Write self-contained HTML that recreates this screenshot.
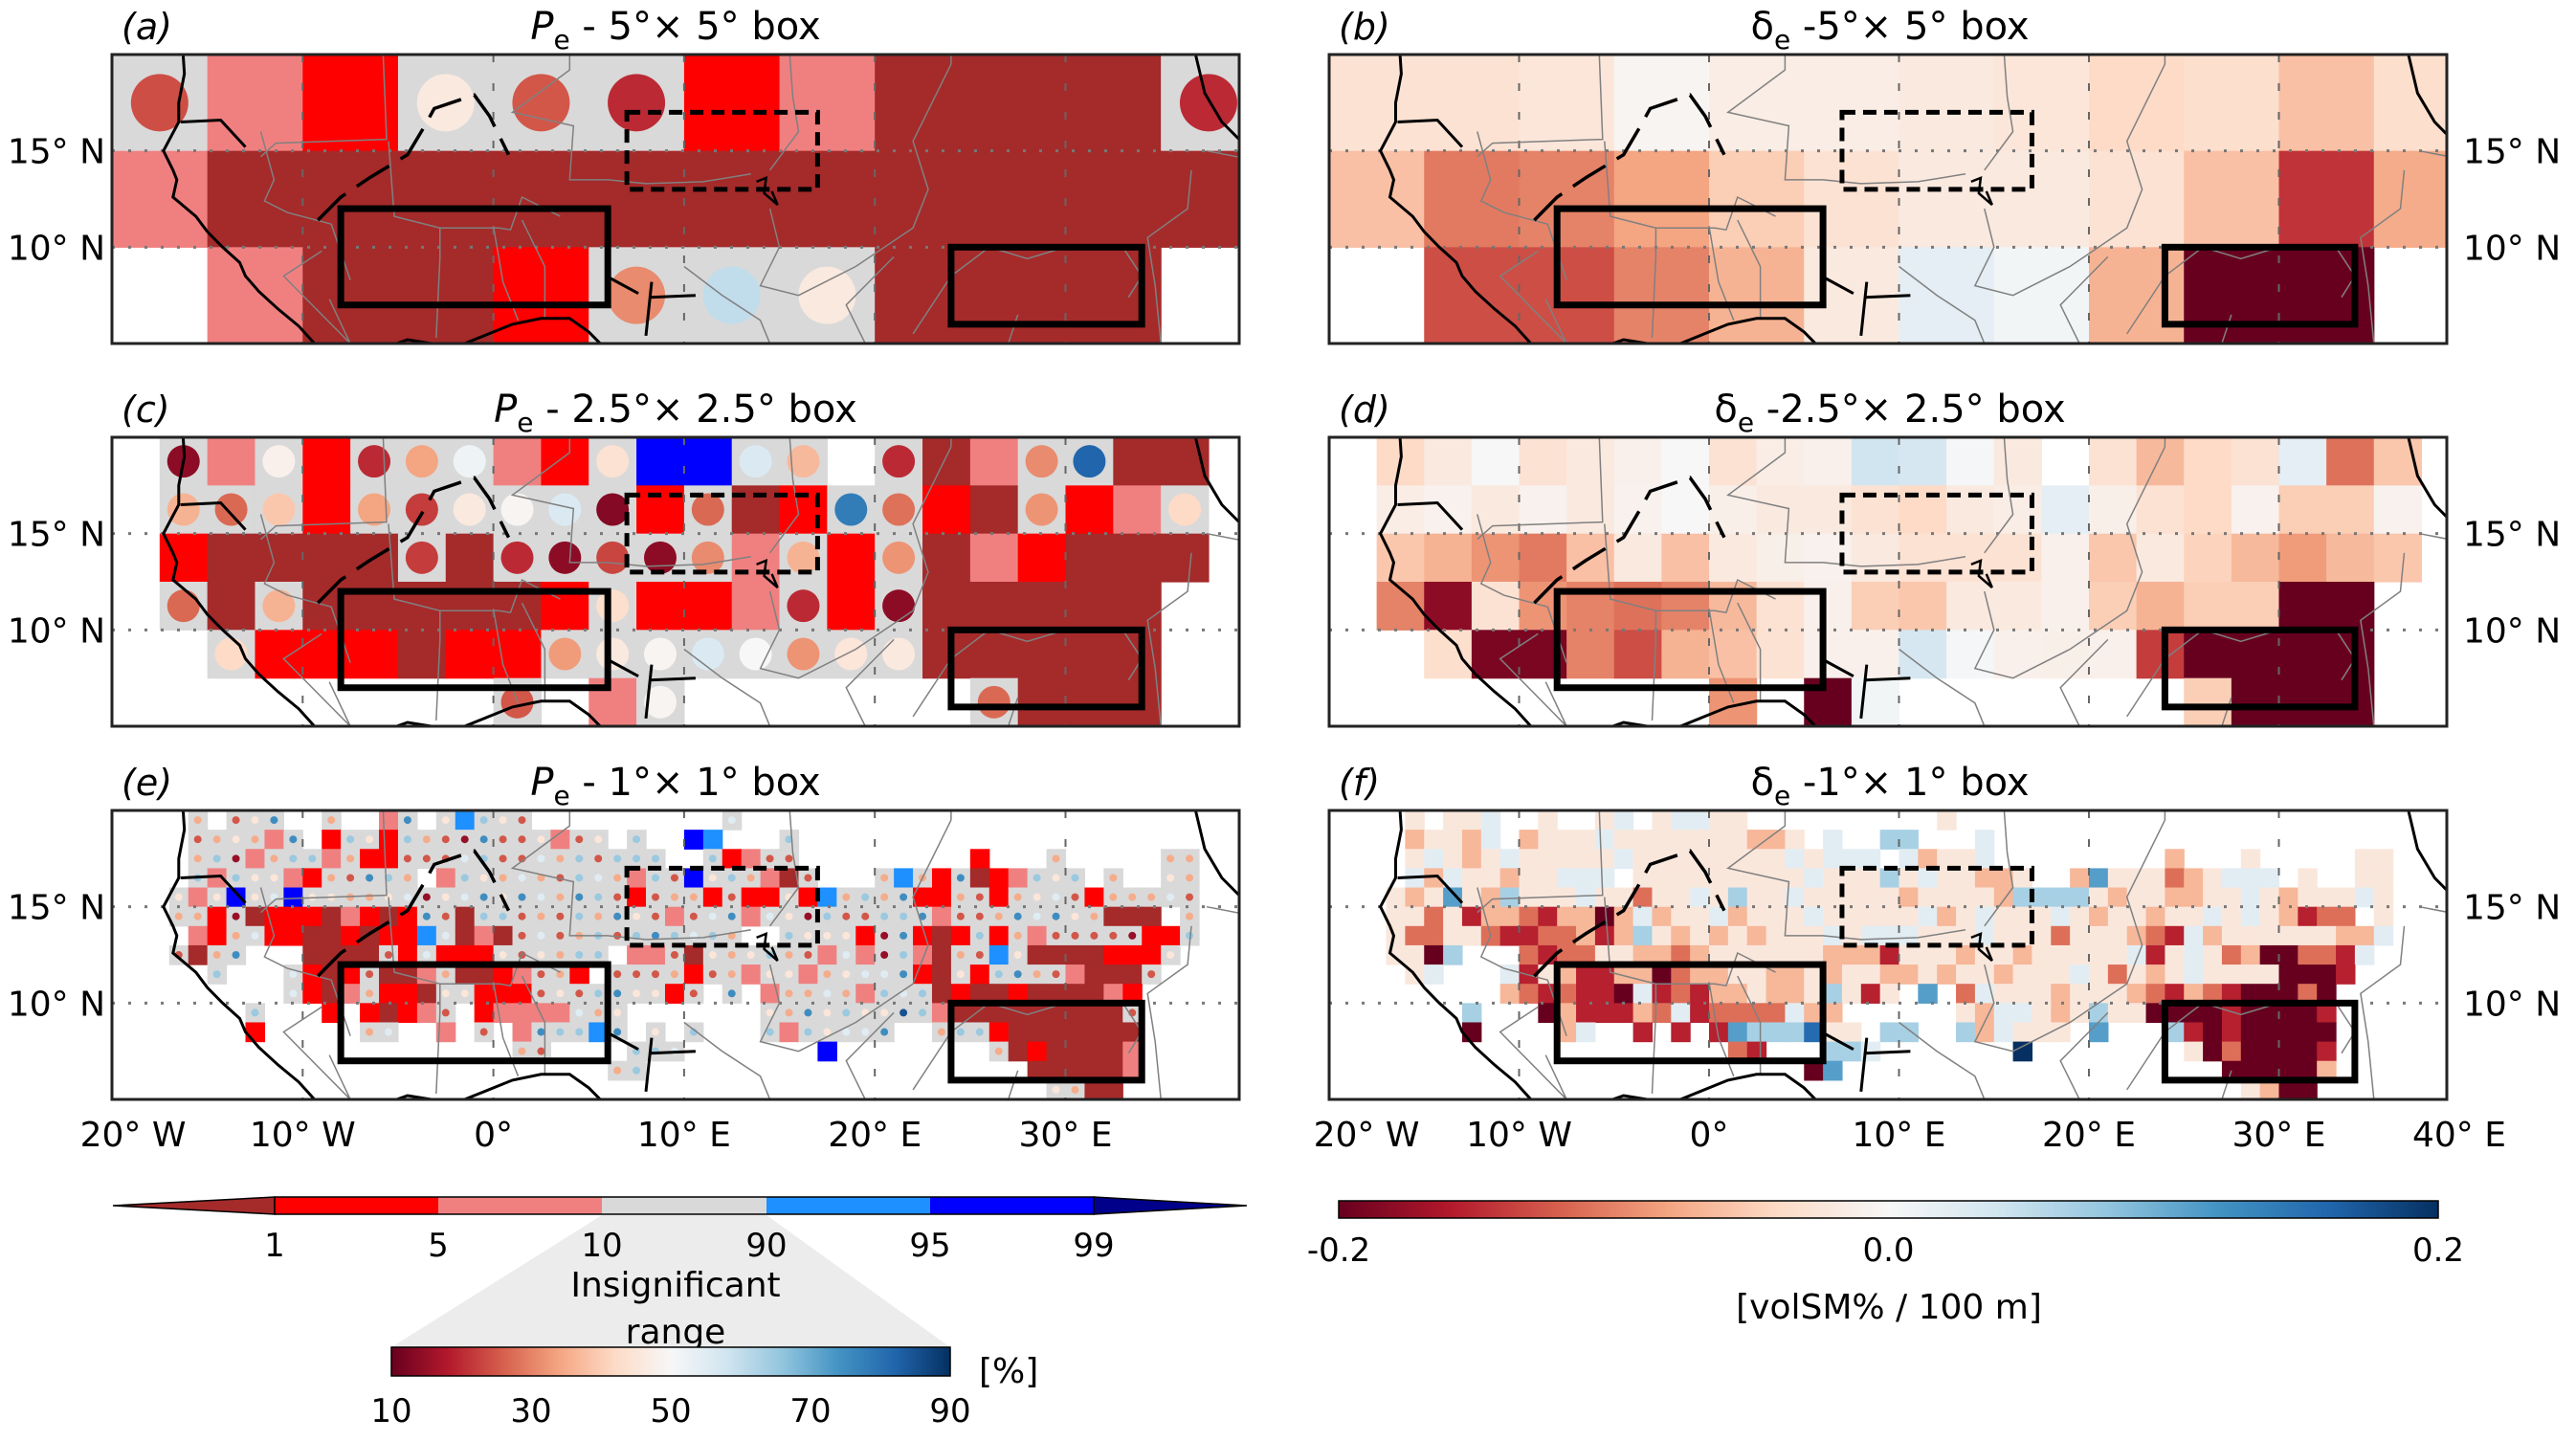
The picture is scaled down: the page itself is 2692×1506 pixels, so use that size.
<!DOCTYPE html>
<html><head><meta charset="utf-8">
<style>
html,body{margin:0;padding:0;background:#fff;}
svg{display:block;font-family:"DejaVu Sans","Liberation Sans",sans-serif;}
</style></head>
<body>
<svg id="fig" xmlns="http://www.w3.org/2000/svg" width="2692" height="1506" viewBox="0 0 2692 1506">
<defs>
<linearGradient id="rdbu" x1="0" x2="1" y1="0" y2="0">
<stop offset="0" stop-color="#67001f"/><stop offset="0.1" stop-color="#b2182b"/><stop offset="0.2" stop-color="#d6604d"/><stop offset="0.3" stop-color="#f4a582"/><stop offset="0.4" stop-color="#fddbc7"/><stop offset="0.5" stop-color="#f7f7f7"/><stop offset="0.6" stop-color="#d1e5f0"/><stop offset="0.7" stop-color="#92c5de"/><stop offset="0.8" stop-color="#4393c3"/><stop offset="0.9" stop-color="#2166ac"/><stop offset="1" stop-color="#053061"/>
</linearGradient>
</defs>
<g id="panels"></g>
<g id="cbars"></g>
</svg>
<script>
// ---------- data ----------
const aP = [
 [24,7,3,46,25,20,3,7,0.5,0.5,0.5,20],
 [7,0.5,0.5,0.5,0.5,0.5,0.5,0.5,0.5,0.5,0.5,0.5],
 [null,7,0.5,0.5,3,31,60,46,0.5,0.5,0.5,null]
];
const cP = [
 [null,14,7,48,3,20,34,52,7,3,44,97,97,56,37,null,20,0.5,7,31,82,0.5,0.5,null],
 [null,36,27,39,3,34,22,46,49,56,13,3,27,0.5,3,78,28,3,0.5,32,3,7,42,null],
 [null,3,0.5,0.5,0.5,0.5,22,0.5,20,14,23,14,31,7,36,3,32,0.5,7,3,0.5,0.5,0.5,null],
 [null,27,0.5,36,0.5,0.5,0.5,0.5,0.5,3,43,3,3,7,20,3,14,0.5,0.5,0.5,0.5,0.5,null,null],
 [null,null,42,3,3,3,0.5,3,3,33,46,49,56,50,32,45,46,0.5,0.5,0.5,0.5,0.5,null,null],
 [null,null,null,null,null,null,null,null,25,null,7,49,null,null,null,null,null,null,27,0.5,0.5,0.5,null,null]
];
const eStart = [4,4,4,4,3,3,4,3,5,9,7,7,21,26,49];
const eRows = [
 "3.247..3..P7.4L642..........5",
 "2343P7.R64R63217224P24.6..BL...6",
 "361P366P3RR22256225362666..6RP22.........R...3.....33",
 "6P644PR32763.P643532653P62B463PD2...3L3R7DRP646.3..43",
 "4P4B45B44334514574753762R233R2RR4RL3637RR32R3452R33352",
 "33R1DRRRDPRDR72D6623263742P257P541622667P22375743DDD.3",
 "PR35RRDDRDRRL5DPD252362676563..6444R17RDR6R3P22221RR6",
 "2D37...DDDD2R5RRR424366.PP2D434632P5P16PD32L4DDDDRRR4",
 "6...5RDR2DDP3DDRP23R.2223R23P44P34557RD4R6732PDDD2",
 "5RDP3RRD44RRR2426744R2.7.P3353P656DRDDRDDDDPR",
 "6...R.RDRP2.RPPPP534.......437464486PDDDDDDDDD2",
 "R.....35..P.2.P766L7.4.6...6P64557..366RDDDDDDD",
 "32....665.......B........3DRDDDDP",
 "36....................DDDDDP",
 "43DD"
];
const bV = [
 [-0.03,-0.03,-0.025,-0.005,-0.015,-0.015,-0.02,-0.025,-0.04,-0.035,-0.06,-0.035],
 [-0.06,-0.105,-0.1,-0.08,-0.05,-0.03,-0.02,-0.02,-0.03,-0.06,-0.145,-0.075],
 [null,-0.13,-0.13,-0.1,-0.07,-0.02,0.02,0.005,-0.07,-0.2,-0.2,null]
];
const dV = [
 [null,-0.04,-0.02,0.0,-0.03,-0.02,-0.01,0.0,-0.03,-0.015,-0.01,0.04,0.035,0.002,-0.02,null,-0.03,-0.065,-0.04,-0.03,0.02,-0.11,-0.055,null],
 [null,-0.015,-0.008,-0.02,-0.008,-0.02,-0.008,0.0,-0.012,-0.02,-0.02,-0.03,-0.04,-0.02,-0.015,0.02,-0.012,-0.03,-0.04,-0.008,-0.05,-0.05,-0.008,null],
 [null,-0.055,-0.07,-0.09,-0.105,-0.06,-0.02,-0.06,-0.02,-0.012,-0.008,-0.02,-0.03,-0.03,-0.03,-0.01,-0.055,-0.02,-0.045,-0.065,-0.085,-0.065,-0.055,null],
 [null,-0.1,-0.18,-0.03,-0.09,-0.1,-0.11,-0.1,-0.065,-0.03,-0.01,-0.05,-0.055,-0.02,-0.02,-0.01,-0.05,-0.07,-0.05,-0.05,-0.2,-0.2,null,null],
 [null,null,-0.035,-0.19,-0.19,-0.1,-0.13,-0.07,-0.06,-0.03,-0.01,-0.01,0.035,0.002,-0.01,-0.012,-0.01,-0.14,-0.2,-0.2,-0.2,-0.2,null,null],
 [null,null,null,null,null,null,null,null,-0.09,null,-0.2,0.005,null,null,null,null,null,null,-0.05,-0.2,-0.2,-0.2,null,null]
];
const fStart = [4,4,4,4,3,3,3,3,4,9,7,7,21,25,48];
const fRows = [
 "4.445..4..45.45544..........4",
 "34435.344454444444334.5..66...5",
 "4543454444454444444454555.53445.........3...4.....44",
 "53544344555.444444444544464544334..37444234555.4..44",
 "4347436444"+"5442445464"+"4544444344"+"4436666434"+"4334454344"+"454",
 "4424133213"+"3035344534"+"4454444453"+"4544454344"+"3445454312"+"2.4",
 "4224421122"+"3136434343"+"4445455544"+"4544424443"+"2153444444"+"335",
 "4406...212"+"2443323444"+"4443331444"+"3443444445"+"1454230022"+"15",
 "45...51431"+"1330233443"+"3434433434"+"4344454243"+"4544440001",
 "3212110512"+"1334334641"+"4.7.254443"+"4443213210"+"0020",
 "6...031113"+"2512222533"+"......"+"4355434644"+"0000100001",
 "0....35..1"+".1.1766684"+"4.66..6354"+"44.7...610"+"100000",
 "21...665.......9........40200001",
 "07....................000003",
 "4300"
];
const latTicks = [15,10];
const lonTicksL = [-20,-10,0,10,20,30];
const lonTicksR = [-20,-10,0,10,20,30,40];
const catTicks = ["1","5","10","90","95","99"];
const pctTicks = ["10","30","50","70","90"];
const deltaTicks = ["-0.2","0.0","0.2"];
const boxes = [[-8,6,7,12,'solid'],[24,34,6,10,'solid'],[7,17,13,17,'dash']];

// ---------- helpers ----------
const NS="http://www.w3.org/2000/svg";
const svg=document.getElementById('fig');
function mk(tag,attrs,parent){const e=document.createElementNS(NS,tag);for(const k in attrs)e.setAttribute(k,attrs[k]);(parent||svg).appendChild(e);return e;}
const stops=["#67001f","#b2182b","#d6604d","#f4a582","#fddbc7","#f7f7f7","#d1e5f0","#92c5de","#4393c3","#2166ac","#053061"];
function hex(c){return [parseInt(c.substr(1,2),16),parseInt(c.substr(3,2),16),parseInt(c.substr(5,2),16)];}
function rdbu(t){t=Math.max(0,Math.min(1,t));const s=t*10;const i=Math.min(9,Math.floor(s));const f=s-i;const a=hex(stops[i]),b=hex(stops[i+1]);return 'rgb('+a.map((v,k)=>Math.round(v+(b[k]-v)*f)).join(',')+')';}
function catColor(p){if(p<1)return '#a52a2a';if(p<5)return '#ff0000';if(p<10)return '#f08080';if(p<90)return '#d9d9d9';if(p<95)return '#1e90ff';if(p<99)return '#0000ff';return '#00008b';}
function codeToP(ch){if(ch==='D')return 0.5;if(ch==='R')return 3;if(ch==='P')return 7;if(ch==='L')return 92;if(ch==='B')return 97;if(ch==='N')return 99.5;return 10+(parseInt(ch)-0.5)*10;}
function codeToV(ch){return -0.2+parseInt(ch)*0.4/9;}

const LAT0=5,LAT1=20;
function makePanel(id,x0,x1,y0,y1,pxPerDeg){
  return {id,x0,x1,y0,y1,X:lon=>x0+(lon+20)*pxPerDeg,Y:lat=>y0+(LAT1-lat)*(y1-y0)/(LAT1-LAT0),k:pxPerDeg};
}
const P = {
 a:makePanel('a',117,1295,57,359,19.93), b:makePanel('b',1389,2557,57,359,19.85),
 c:makePanel('c',117,1295,457,759,19.93), d:makePanel('d',1389,2557,457,759,19.85),
 e:makePanel('e',117,1295,847,1149,19.93), f:makePanel('f',1389,2557,847,1149,19.85)
};
const gp=document.getElementById('panels');

function panelGroup(p){
  const cp=mk('clipPath',{id:'clip-'+p.id},svg.querySelector('defs'));
  mk('rect',{x:p.x0,y:p.y0,width:p.x1-p.x0,height:p.y1-p.y0},cp);
  const g=mk('g',{'clip-path':'url(#clip-'+p.id+')'},gp);
  
  
  return g;
}
function cellP(g,p,lon,lat,deg,pv,rad){
  const x=p.X(lon),y=p.Y(lat+deg),w=deg*p.k,h=p.Y(lat)-p.Y(lat+deg);
  const r=mk('rect',{x:x,y:y,width:w+0.6,height:h+0.6,fill:catColor(pv)},g);
  
  
  if(pv>=10&&pv<90){
    const c=mk('circle',{cx:x+w/2,cy:y+h/2,r:rad,fill:rdbu((pv-10)/80)},g);
    
    
  }
}
function cellV(g,p,lon,lat,deg,v){
  const x=p.X(lon),y=p.Y(lat+deg),w=deg*p.k,h=p.Y(lat)-p.Y(lat+deg);
  const r=mk('rect',{x:x,y:y,width:w+0.6,height:h+0.6,fill:rdbu((v+0.2)/0.4)},g);
  
  
}
function drawGrid(g,p,vals,deg,kind,rad){
  vals.forEach((row,i)=>row.forEach((v,j)=>{if(v===null)return;const lon=-20+j*deg,lat=LAT1-(i+1)*deg;
    if(kind==='p')cellP(g,p,lon,lat,deg,v,rad);else cellV(g,p,lon,lat,deg,v);}));
}
function drawCodes(g,p,starts,rows,kind){
  rows.forEach((s,i)=>{for(let k=0;k<s.length;k++){const ch=s[k];if(ch==='.'||ch===' ')continue;
    const lon=-20+starts[i]+k,lat=LAT1-(i+1);
    if(kind==='p')cellP(g,p,lon,lat,1,codeToP(ch),4);else cellV(g,p,lon,lat,1,codeToV(ch));}});
}
const coast=[[-16.3,20.5],[-16.2,19],[-16.5,17.5],[-16.5,16.5],[-17.3,15],[-16.8,14],[-16.6,13.5],[-16.8,12.6],[-15.6,11.6],[-15,10.8],[-14.2,10],[-13.3,9.2],[-13,8.5],[-12.3,7.7],[-11.3,6.8],[-10.2,5.9],[-9.2,4.8]];
const coast2=[[-6.5,4.5],[-4.5,5.2],[-2,4.8],[1,6],[2.5,6.3],[4,6.3],[5,5.6],[5.8,4.8]];
const senegal=[[-16.4,16.5],[-14.3,16.6],[-13,15.2]];
const niger=[[-9.2,11.4],[-8,12.6],[-6.5,13.6],[-4.5,14.8],[-3.6,16.3],[-3.1,17.2],[-1,17.9],[-0.2,16.8],[0.8,14.8]];
const benue=[[6.1,8.4],[7.6,7.6]];
const riverV=[[8.3,8.2],[8.0,5.4]];
const riverH=[[8.2,7.4],[10.6,7.5]];
const chad=[[13.8,13.4],[14.3,13.6],[14.2,12.8],[14.9,12.2],[14.6,12.9]];
const redsea=[[36.7,20.5],[37.3,18],[38.2,16.5],[39.1,15.6],[39.6,15]];
const borders=[
 [[-5.8,20.5],[-5.6,15.6],[-11.4,15.4],[-12.2,14.7]],
 [[-12.2,16],[-11.5,13.5],[-12,12.4],[-10.8,11.8],[-8.5,11.2],[-7.5,8.3]],
 [[-5.5,15.5],[-5.2,11.6],[-2.8,11],[0.3,11],[0.9,10.9],[1.5,12.6],[3.5,11.6]],
 [[-2.8,11],[-2.8,9.5],[-3,5.3]],[[0,11.1],[0.5,8.2],[1.3,6.2]],[[1.5,11.4],[2.7,9],[2.7,6.3]],
 [[4,20.5],[4,19.2],[1,17],[4.2,16.3],[4,13.5],[6,13.5],[8,13.3],[11,13.4],[13.5,13.8]],
 [[14.5,12],[15,10],[14,8],[16,7.5],[19,9],[22,11],[22.8,13],[22,15.5],[24,19.5]],
 [[24,20.5],[24,19.5]],[[15.5,20.5],[15.7,17.8],[16,16],[14.5,14]],
 [[22,5.5],[24,8.5],[26,10],[28,9.4],[30,10],[33,10],[34,8.5],[33.3,7.4]],
 [[36.6,14],[36.4,12],[34.3,10.5],[34.7,8],[35,5]],[[37.4,15],[39.5,14.6],[41,14.3]],
 [[10,9],[12,7.5],[14,6.2],[14.5,5]],[[-8.6,7.3],[-7.5,5],[-11,8.5],[-9,9.8]],
 [[19.5,5],[18.5,7],[21,9.5]],[[27,5],[27.5,6.5]]
];
function poly(g,pts,p,attrs,name){const e=mk('polyline',Object.assign({points:pts.map(q=>p.X(q[0]).toFixed(1)+','+p.Y(q[1]).toFixed(1)).join(' '),fill:'none'},attrs),g);
  
  }
function drawMapFeatures(g,p){
  for(let lon=-10;lon<=40;lon+=10){const l=mk('line',{x1:p.X(lon),x2:p.X(lon),y1:p.y0,y2:p.y1,stroke:'#666','stroke-width':2,'stroke-dasharray':'8,22'},g);
    
    }
  latTicks.forEach(lat=>{const l=mk('line',{x1:p.x0,x2:p.x1,y1:p.Y(lat),y2:p.Y(lat),stroke:'#777','stroke-width':3,'stroke-dasharray':'3,14'},g);
    
    });
  borders.forEach(b=>poly(g,b,p,{stroke:'#808080','stroke-width':1.5},'country-border'));
  poly(g,coast,p,{stroke:'#000','stroke-width':3},'coastline');
  poly(g,coast2,p,{stroke:'#000','stroke-width':3},'coastline');
  poly(g,redsea,p,{stroke:'#000','stroke-width':3},'coastline');
  poly(g,senegal,p,{stroke:'#000','stroke-width':3},'river');
  poly(g,niger,p,{stroke:'#000','stroke-width':3.5,'stroke-dasharray':'40,14'},'river');
  poly(g,benue,p,{stroke:'#000','stroke-width':3},'river');
  poly(g,riverV,p,{stroke:'#000','stroke-width':3},'river');
  poly(g,riverH,p,{stroke:'#000','stroke-width':3},'river');
  poly(g,chad,p,{stroke:'#000','stroke-width':2.5},'lake-outline');
  boxes.forEach(b=>{const r=mk('rect',{x:p.X(b[0]),y:p.Y(b[3]),width:(b[1]-b[0])*p.k,height:p.Y(b[2])-p.Y(b[3]),fill:'none',stroke:'#000','stroke-width':b[4]==='solid'?7:5,'stroke-dasharray':b[4]==='solid'?'none':'14,8'},g);
    
    });
}
function frame(p){const r=mk('rect',{x:p.x0,y:p.y0,width:p.x1-p.x0,height:p.y1-p.y0,fill:'none',stroke:'#222','stroke-width':3},gp);
  
  }
function txt(x,y,s,size,anchor,parent,name,extra){const t=mk('text',Object.assign({x:x,y:y,'font-size':size,'text-anchor':anchor||'middle',fill:'#000'},extra||{}),parent||gp);t.textContent=s;
  
  return t;}
function title(p,sym,rest,letter,cx){
  const t=mk('text',{x:cx,y:p.y0-16,'font-size':40,'text-anchor':'middle'},gp);
  
  
  const a=mk('tspan',{'font-style':sym==='P'?'italic':'normal'},t);a.textContent=sym;
  const b=mk('tspan',{'font-size':28,dy:10},t);b.textContent='e';
  const c=mk('tspan',{dy:-10},t);c.textContent=rest;
  txt(p.x0+10,p.y0-16,'('+letter+')',38,'start',gp,'panel-label',{'font-style':'italic'});
}

[['a',aP,5,'p',30],['c',cP,2.5,'p',17]].forEach(([id,v,deg,k,r])=>{const p=P[id];const g=panelGroup(p);drawGrid(g,p,v,deg,k,r);drawMapFeatures(g,p);frame(p);});
[['b',bV,5],['d',dV,2.5]].forEach(([id,v,deg])=>{const p=P[id];const g=panelGroup(p);drawGrid(g,p,v,deg,'v');drawMapFeatures(g,p);frame(p);});
{const p=P.e;const g=panelGroup(p);drawCodes(g,p,eStart,eRows,'p');drawMapFeatures(g,p);frame(p);}
{const p=P.f;const g=panelGroup(p);drawCodes(g,p,fStart,fRows,'v');drawMapFeatures(g,p);frame(p);}

title(P.a,'P',' -  5\u00b0\u00d7 5\u00b0 box','a',706);
title(P.b,'\u03b4',' -5\u00b0\u00d7 5\u00b0 box','b',1975);
title(P.c,'P',' -  2.5\u00b0\u00d7 2.5\u00b0 box','c',706);
title(P.d,'\u03b4',' -2.5\u00b0\u00d7 2.5\u00b0 box','d',1975);
title(P.e,'P',' -  1\u00b0\u00d7 1\u00b0 box','e',706);
title(P.f,'\u03b4',' -1\u00b0\u00d7 1\u00b0 box','f',1975);

['a','c','e'].forEach(id=>latTicks.forEach(l=>txt(110,P[id].Y(l)+13,l+'\u00b0 N',36,'end',gp,'latitude-label')));
['b','d','f'].forEach(id=>latTicks.forEach(l=>txt(2574,P[id].Y(l)+13,l+'\u00b0 N',36,'start',gp,'latitude-label')));
function lonLab(v){return v<0?(-v)+'\u00b0 W':v===0?'0\u00b0':v+'\u00b0 E';}
lonTicksL.forEach(v=>txt(v===-20?139:P.e.X(v),1198,lonLab(v),36,'middle',gp,'longitude-label'));
lonTicksR.forEach(v=>txt(v===-20?1428:(v===40?2570:P.f.X(v)),1198,lonLab(v),36,'middle',gp,'longitude-label'));

// ---------- colorbars ----------
const cb=document.getElementById('cbars');
const catCols=['#a52a2a','#ff0000','#f08080','#d9d9d9','#1e90ff','#0000ff','#00008b'];
const segX=[287,458,629,801,972,1143];
const yT=1251,yB=1269;
{
 const tr=mk('polygon',{points:`629,1270 801,1270 993,1408 409,1408`,fill:'#ececec'},cb);
 
 
 const t1=mk('polygon',{points:`118,1260 ${segX[0]},${yT} ${segX[0]},${yB}`,fill:catCols[0],stroke:'#000','stroke-width':1.5},cb);
 
 
 for(let i=0;i<5;i++){const r=mk('rect',{x:segX[i],y:yT,width:segX[i+1]-segX[i],height:yB-yT,fill:catCols[i+1]},cb);
   
   }
 const t2=mk('polygon',{points:`${segX[5]},${yT} 1303,1260 ${segX[5]},${yB}`,fill:catCols[6],stroke:'#000','stroke-width':1.5},cb);
 
 
 const o=mk('rect',{x:segX[0],y:yT,width:segX[5]-segX[0],height:yB-yT,fill:'none',stroke:'#000','stroke-width':1.5},cb);
 
 
 catTicks.forEach((s,i)=>txt(segX[i],1313,s,34,'middle',cb,'colorbar-tick-label'));
 txt(706,1355,'Insignificant',36,'middle',cb,'insignificant-label');
 txt(706,1404,'range',36,'middle',cb,'insignificant-label');
 const sb=mk('rect',{x:409,y:1408,width:584,height:30,fill:'url(#rdbu)',stroke:'#000','stroke-width':1.5},cb);
 
 
 pctTicks.forEach((s,i)=>txt(409+i*146,1486,s,34,'middle',cb,'percentile-tick-label'));
 txt(1023,1445,'[%]',36,'start',cb,'percent-unit-label');
 const db=mk('rect',{x:1399,y:1255,width:1149,height:18,fill:'url(#rdbu)',stroke:'#000','stroke-width':1.5},cb);
 
 
 deltaTicks.forEach((s,i)=>txt(1399+i*574.5,1318,s,34,'middle',cb,'delta-tick-label'));
 txt(1974,1378,'[volSM% / 100 m]',36,'middle',cb,'delta-unit-label');
}
</script>
</body></html>
